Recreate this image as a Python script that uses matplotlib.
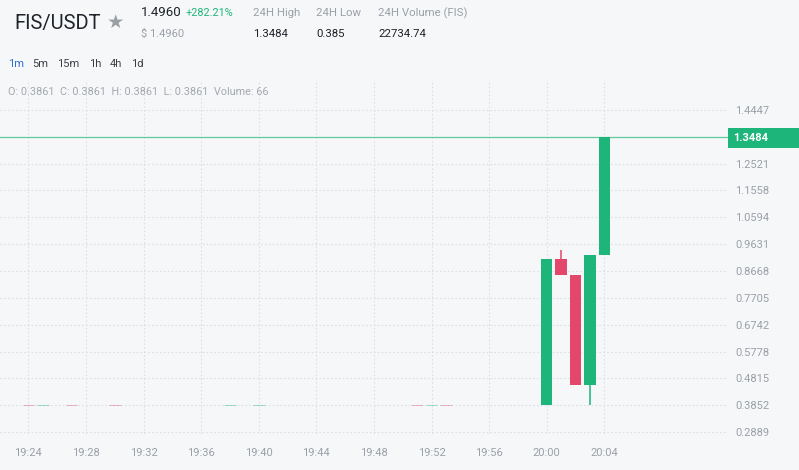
import matplotlib
matplotlib.use("Agg")
import matplotlib.pyplot as plt
from matplotlib.patches import Rectangle

# Data (minutes after 19:00)
minutes = [24, 25, 27, 30, 38, 40, 51, 52, 53, 60, 61, 62, 63, 64]
opens = [0.3864, 0.3861, 0.3864, 0.3864, 0.3861, 0.3861, 0.3864, 0.3861, 0.3864,
         0.3861, 0.9105, 0.8525, 0.4565, 0.9239]
highs = [0.3864, 0.3864, 0.3864, 0.3864, 0.3864, 0.3864, 0.3864, 0.3864, 0.3864,
         0.9105, 0.9417, 0.8525, 0.9239, 1.3484]
lows = [0.3861, 0.3861, 0.3861, 0.3861, 0.3861, 0.3861, 0.3861, 0.3861, 0.3861,
        0.3861, 0.8525, 0.4565, 0.3850, 0.9239]
closes = [0.3861, 0.3864, 0.3861, 0.3861, 0.3864, 0.3864, 0.3861, 0.3864, 0.3861,
          0.9105, 0.8525, 0.4565, 0.9239, 1.3484]

x_ticks = [24, 28, 32, 36, 40, 44, 48, 52, 56, 60, 64]
x_labels = ["19:24", "19:28", "19:32", "19:36", "19:40", "19:44", "19:48",
            "19:52", "19:56", "20:00", "20:04"]
y_ticks = [0.2889, 0.3852, 0.4815, 0.5778, 0.6742, 0.7705, 0.8668, 0.9631,
           1.0594, 1.1558, 1.2521, 1.4447]
y_labels = ["0.2889", "0.3852", "0.4815", "0.5778", "0.6742", "0.7705", "0.8668",
            "0.9631", "1.0594", "1.1558", "1.2521", "1.4447"]
last_price = 1.3484

GREEN = "#1db57a"
RED = "#e3486a"
BG = "#f6f7f9"
GRID = "#dcdfe4"
GRAY = "#9aa0a8"
DARK = "#1e2329"

plt.rcParams["font.family"] = ["Roboto", "DejaVu Sans"]

fig = plt.figure(figsize=(7.99, 4.70), dpi=100, facecolor=BG)
ax = fig.add_axes([0, 36 / 470, 728 / 799, (434 - 80) / 470])
ax.set_facecolor(BG)

# Candles
for t, o, h, l, c in zip(minutes, opens, highs, lows, closes):
    col = GREEN if c >= o else RED
    big = abs(c - o) > 0.01
    if big:
        ax.vlines(t, l, h, color=col, linewidth=1.1, zorder=3)
        ax.bar(t, c - o, bottom=o, width=0.8, color=col, linewidth=0, zorder=4)
    else:
        ax.hlines((o + c) / 2, t - 0.4, t + 0.4, color=col, linewidth=0.6,
                  alpha=0.45, zorder=3)

# Last price line
ax.axhline(last_price, color="#62c99f", linewidth=0.9, zorder=2)

ax.set_xlim(22.03, 72.59)
ax.set_ylim(0.2817, 1.5524)
ax.set_xticks(x_ticks)
ax.set_xticklabels(x_labels)
ax.set_yticks(y_ticks)
ax.set_yticklabels(y_labels)
ax.yaxis.tick_right()
ax.tick_params(axis="both", length=0, colors=GRAY, labelsize=8)
ax.tick_params(axis="y", pad=5)
ax.tick_params(axis="x", pad=10)
ax.grid(True, color=GRID, linestyle=(0, (1.5, 2)), linewidth=0.8)
ax.set_axisbelow(True)
for s in ax.spines.values():
    s.set_visible(False)

# price tag box
fig.patches.append(Rectangle((728 / 799, 1 - 148 / 470), 71 / 799, 20 / 470,
                             transform=fig.transFigure, fc=GREEN, ec="none"))
fig.text(733 / 799, 1 - 138 / 470, "1.3484", fontsize=8, color="white",
         fontweight="bold", va="center", ha="left")

# OHLC line inside chart
fig.text(8 / 799, 1 - 92 / 470,
         "O: 0.3861  C: 0.3861  H: 0.3861  L: 0.3861  Volume: 66",
         fontsize=7.8, color="#a3a8b0", va="center")

# Header
fig.text(14 / 799, 1 - 23 / 470, "FIS/USDT", fontsize=14.5, color=DARK, va="center")
fig.text(107 / 799, 1 - 22 / 470, "★", fontsize=14, color="#9a9fa6", va="center",
         family="DejaVu Sans")
fig.text(141 / 799, 1 - 13 / 470, "1.4960", fontsize=9.5, color=DARK, va="center")
fig.text(186 / 799, 1 - 13 / 470, "+282.21%", fontsize=7.8, color=GREEN, va="center")
fig.text(141 / 799, 1 - 34 / 470, "$ 1.4960", fontsize=8, color=GRAY, va="center")
fig.text(253 / 799, 1 - 13 / 470, "24H High", fontsize=8.2, color=GRAY, va="center")
fig.text(253 / 799, 1 - 34 / 470, "1.3484", fontsize=8.2, color=DARK, va="center")
fig.text(316 / 799, 1 - 13 / 470, "24H Low", fontsize=8.2, color=GRAY, va="center")
fig.text(316 / 799, 1 - 34 / 470, "0.385", fontsize=8.2, color=DARK, va="center")
fig.text(378 / 799, 1 - 13 / 470, "24H Volume (FIS)", fontsize=8.2, color=GRAY, va="center")
fig.text(378 / 799, 1 - 34 / 470, "22734.74", fontsize=8.2, color=DARK, va="center")

# Timeframe buttons
frames = ["1m", "5m", "15m", "1h", "4h", "1d"]
frame_x = [8, 32, 57, 89, 110, 131]
for lab, fx in zip(frames, frame_x):
    fig.text(fx / 799, 1 - 64 / 470, lab, fontsize=8,
             color="#2f6fd6" if lab == "1m" else "#3a3f45", va="center")

fig.savefig("out.png", dpi=100, facecolor=BG)
